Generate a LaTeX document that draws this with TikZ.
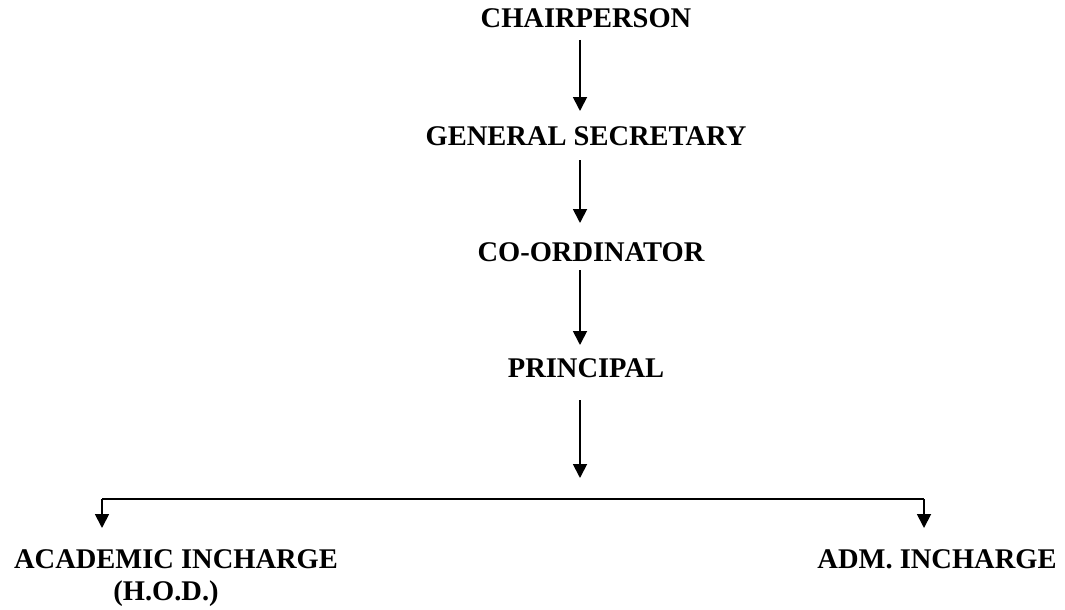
\documentclass[tikz,border=0pt]{standalone}
\usepackage{fontspec}
\setmainfont{Liberation Serif}
\usetikzlibrary{arrows.meta}
\begin{document}
\begin{tikzpicture}[x=1pt,y=-1pt,
  lbl/.style={font=\fontsize{28.5}{32}\selectfont\bfseries, inner sep=0pt, anchor=base},
  arr/.style={line width=1.8pt, -{Triangle[width=14pt,length=14pt]}},
  ln/.style={line width=1.7pt}]
\useasboundingbox (0,0) rectangle (1065,610);
\node[lbl] (chair) at (586,28) {CHAIRPERSON};
\node[lbl] (gen) at (586,145) {GENERAL SECRETARY};
\node[lbl] (coord) at (591,261) {CO-ORDINATOR};
\node[lbl] (prin) at (586,377) {PRINCIPAL};
\node[lbl] (acad) at (176,568) {ACADEMIC INCHARGE};
\node[lbl] (hod) at (166,600) {(H.O.D.)};
\node[lbl] (adm) at (937,568) {ADM. INCHARGE};
% connector end points
\coordinate (c1) at (580,40);  \coordinate (g0) at (580,111);
\coordinate (g1) at (580,160); \coordinate (o0) at (580,223);
\coordinate (o1) at (580,270); \coordinate (p0) at (580,345);
\coordinate (p1) at (580,400); \coordinate (p2) at (580,478);
\coordinate (hl) at (102,499); \coordinate (hr) at (924,499);
\coordinate (al) at (102,528); \coordinate (ar) at (924,528);
\draw[arr] (c1) -- (g0);
\draw[arr] (g1) -- (o0);
\draw[arr] (o1) -- (p0);
\draw[arr] (p1) -- (p2);
\draw[ln] (hl) -- (hr);
\draw[arr] (hl) -- (al);
\draw[arr] (hr) -- (ar);
\end{tikzpicture}
\end{document}
